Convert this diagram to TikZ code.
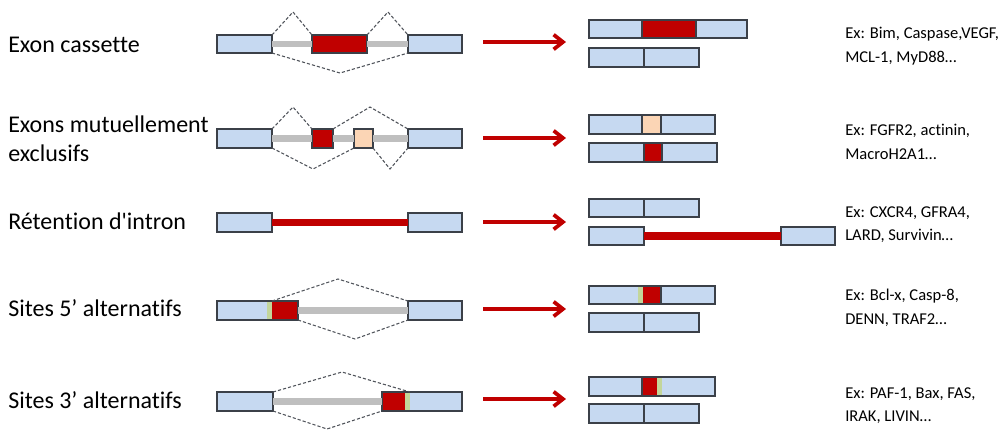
\documentclass[tikz,border=0pt]{standalone}
\usepackage{fontspec}
\setmainfont{Carlito}[Ligatures={NoCommon}]
\usetikzlibrary{fit,arrows.meta}
\definecolor{exblue}{HTML}{C6D9F1}
\definecolor{exred}{HTML}{C00000}
\definecolor{exgray}{HTML}{BFBFBF}
\definecolor{expeach}{HTML}{FBD5B5}
\definecolor{exgreen}{HTML}{C3D69B}
\definecolor{edge}{HTML}{3B4048}
\begin{document}
\begin{tikzpicture}[x=0.75pt,y=-0.75pt,
  box/.style={draw=edge, line width=1.1pt, inner sep=0pt, outer sep=0pt},
  bluebox/.style={box, fill=exblue},
  redbox/.style={box, fill=exred},
  peachbox/.style={box, fill=expeach},
  seg/.style={inner sep=0pt, outer sep=0pt, draw=none},
  frame/.style={draw=edge, line width=1.1pt, inner sep=0pt, outer sep=0pt},
  divider/.style={draw=edge, line width=1.1pt},
  intron/.style={draw=exgray, line width=4.8pt},
  retained/.style={draw=exred, line width=5.6pt},
  splice/.style={draw=edge!90, line width=0.8pt, dash pattern=on 2.4pt off 1.5pt},
  arr/.style={draw=exred, line width=2.8pt, -{Straight Barb[length=7pt,width=11pt]}},
  lbl/.style={anchor=base west, inner sep=0pt, font=\fontsize{18}{22.5}\selectfont},
  exlist/.style={anchor=north west, inner sep=0pt, align=left, font=\fontsize{12.4}{17.8}\selectfont}
]
\useasboundingbox (0,0) rectangle (1008,430);

% ---------- Exon cassette ----------
\node[lbl] (l1) at (8,52) {Exon cassette};
\node[bluebox, fit={(217,35) (272,53)}] (a1) {};
\node[redbox,  fit={(312,35) (367,53)}] (b1) {};
\node[bluebox, fit={(408,35) (462,53)}] (c1) {};
\draw[intron] (a1.east) -- (b1.west);
\draw[intron] (b1.east) -- (c1.west);
\coordinate (p1a) at (293,12);
\coordinate (p1b) at (388,12);
\coordinate (p1c) at (340,73);
\draw[splice] (a1.north east) -- (p1a) -- (b1.north west);
\draw[splice] (b1.north east) -- (p1b) -- (c1.north west);
\draw[splice] (a1.south east) -- (p1c) -- (c1.south west);
\coordinate (s1) at (483,42);
\coordinate (e1) at (566,42);
\draw[arr] (s1) -- (e1);
\node[bluebox, fit={(589,20) (747,38)}] (m1a) {};
\node[redbox,  fit={(642,20) (696,38)}] (m1ax) {};
\node[bluebox, fit={(589,48) (644,67)}] (m1b) {};
\node[bluebox, fit={(644,48) (699,67)}] (m1c) {};
\node[exlist] (x1) at (845,27) {Ex: Bim, Caspase,VEGF,\\MCL-1, MyD88\ldots};

% ---------- Exons mutuellement exclusifs ----------
\node[lbl] (l2) at (8,132) {Exons mutuellement};
\node[lbl] (l2b) at (8,161) {exclusifs};
\node[bluebox,  fit={(217,129) (272,148)}] (a2) {};
\node[redbox,   fit={(312,129) (333,148)}] (b2) {};
\node[peachbox, fit={(354,129) (373,148)}] (d2) {};
\node[bluebox,  fit={(408,129) (462,148)}] (c2) {};
\draw[intron] (a2.east) -- (b2.west);
\draw[intron] (b2.east) -- (d2.west);
\draw[intron] (d2.east) -- (c2.west);
\coordinate (p2a) at (293,107);
\coordinate (p2b) at (370,107);
\coordinate (p2c) at (313,169);
\coordinate (p2d) at (390,169);
\draw[splice] (a2.north east) -- (p2a) -- (b2.north west);
\draw[splice] (b2.north east) -- (p2b) -- (c2.north west);
\draw[splice] (a2.south east) -- (p2c) -- (d2.south west);
\draw[splice] (d2.south east) -- (p2d) -- (c2.south west);
\coordinate (s2) at (483,138);
\coordinate (e2) at (566,138);
\draw[arr] (s2) -- (e2);
\node[bluebox,  fit={(589,115) (715,134)}] (m2a) {};
\node[peachbox, fit={(642,115) (661,134)}] (m2ax) {};
\node[bluebox,  fit={(589,143) (717,162)}] (m2b) {};
\node[redbox,   fit={(644,143) (662,162)}] (m2bx) {};
\node[exlist] (x2) at (845,124) {Ex: FGFR2, actinin,\\MacroH2A1\ldots};

% ---------- Rétention d'intron ----------
\node[lbl] (l3) at (8,229) {Rétention d\textquotesingle intron};
\node[bluebox, fit={(217,213) (272,232)}] (a3) {};
\node[bluebox, fit={(408,213) (462,232)}] (c3) {};
\draw[retained] (a3.east) -- (c3.west);
\coordinate (s3) at (483,222);
\coordinate (e3) at (566,222);
\draw[arr] (s3) -- (e3);
\node[bluebox, fit={(589,199) (644,217)}] (m3a) {};
\node[bluebox, fit={(644,199) (699,217)}] (m3b) {};
\node[bluebox, fit={(589,227) (644,245)}] (m3c) {};
\node[bluebox, fit={(781,227) (835,245)}] (m3d) {};
\draw[retained] (m3c.east) -- (m3d.west);
\node[exlist] (x3) at (845,206) {Ex: CXCR4, GFRA4,\\LARD, Survivin\ldots};

% ---------- Sites 5' alternatifs ----------
\node[lbl] (l4) at (8,316) {Sites 5’ alternatifs};
\node[seg, fill=exblue,  fit={(217,301) (267,320)}] (a4) {};
\node[seg, fill=exgreen, fit={(267,301) (272,320)}] (g4) {};
\node[seg, fill=exred,   fit={(272,301) (298,320)}] (r4) {};
\node[frame, fit={(217,301) (298,320)}] (f4) {};
\node[bluebox, fit={(408,301) (462,320)}] (c4) {};
\draw[intron] (f4.east) -- (c4.west);
\coordinate (p4a) at (338,279);
\coordinate (p4b) at (355,339);
\draw[splice] (g4.north east) -- (p4a) -- (c4.north west);
\draw[splice] (f4.south east) -- (p4b) -- (c4.south west);
\coordinate (s4) at (483,309);
\coordinate (e4) at (566,309);
\draw[arr] (s4) -- (e4);
\node[bluebox, fit={(589,286) (715,304)}] (m4a) {};
\node[seg, fill=exgreen, fit={(638,286) (643,304)}] (m4g) {};
\node[seg, fill=exred,   fit={(643,286) (661,304)}] (m4r) {};
\draw[divider] (m4r.north east) -- (m4r.south east);
\draw[divider] (m4a.north west) rectangle (m4a.south east);
\node[bluebox, fit={(589,313) (644,332)}] (m4b) {};
\node[bluebox, fit={(644,313) (699,332)}] (m4c) {};
\node[exlist] (x4) at (845,289) {Ex: Bcl-x, Casp-8,\\DENN, TRAF2\ldots};

% ---------- Sites 3' alternatifs ----------
\node[lbl] (l5) at (8,408) {Sites 3’ alternatifs};
\node[bluebox, fit={(217,392) (273,411)}] (a5) {};
\node[seg, fill=exred,   fit={(382,392) (405,411)}] (r5) {};
\node[seg, fill=exgreen, fit={(405,392) (410,411)}] (g5) {};
\node[seg, fill=exblue,  fit={(410,392) (462,411)}] (c5) {};
\node[frame, fit={(382,392) (462,411)}] (f5) {};
\draw[intron] (a5.east) -- (f5.west);
\coordinate (p5a) at (342,372);
\coordinate (p5b) at (327,429);
\draw[splice] (a5.north east) -- (p5a) -- (g5.north east);
\draw[splice] (a5.south east) -- (p5b) -- (f5.south west);
\coordinate (s5) at (483,399);
\coordinate (e5) at (566,399);
\draw[arr] (s5) -- (e5);
\node[bluebox, fit={(589,377) (715,396)}] (m5a) {};
\node[seg, fill=exred,   fit={(642,377) (657,396)}] (m5r) {};
\node[seg, fill=exgreen, fit={(657,377) (662,396)}] (m5g) {};
\draw[divider] (m5r.north west) -- (m5r.south west);
\draw[divider] (m5a.north west) rectangle (m5a.south east);
\node[bluebox, fit={(589,404) (644,423)}] (m5b) {};
\node[bluebox, fit={(644,404) (699,423)}] (m5c) {};
\node[exlist] (x5) at (845,387) {Ex: PAF-1, Bax, FAS,\\IRAK, LIVIN\ldots};
\end{tikzpicture}
\end{document}
